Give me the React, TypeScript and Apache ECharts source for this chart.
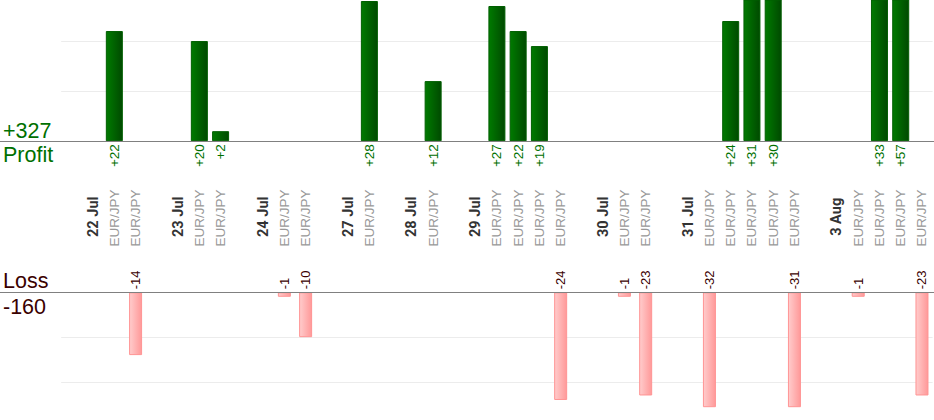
import React, { useEffect, useRef } from "react";
import * as echarts from "echarts";

const PAIR = "EUR/JPY";

const categories: string[] = [
  "", "22 Jul", PAIR, PAIR,
  "", "23 Jul", PAIR, PAIR,
  "", "24 Jul", PAIR, PAIR,
  "", "27 Jul", PAIR,
  "", "28 Jul", PAIR,
  "", "29 Jul", PAIR, PAIR, PAIR, PAIR,
  "", "30 Jul", PAIR, PAIR,
  "", "31 Jul", PAIR, PAIR, PAIR, PAIR, PAIR,
  "", "3 Aug", PAIR, PAIR, PAIR, PAIR,
];

const profit: (number | null)[] = [
  null, null, 22, null,
  null, null, 20, 2,
  null, null, null, null,
  null, null, 28,
  null, null, 12,
  null, null, 27, 22, 19, null,
  null, null, null, null,
  null, null, null, 24, 31, 30, null,
  null, null, null, 33, 57, null,
];

const loss: (number | null)[] = [
  null, null, null, -14,
  null, null, null, null,
  null, null, -1, -10,
  null, null, null,
  null, null, null,
  null, null, null, null, null, -24,
  null, null, -1, -23,
  null, null, -32, null, null, null, -31,
  null, null, -1, null, null, -23,
];

const profitAxisMax = 28.2;
const lossAxisMax = 25.5;
const axisInterval = 10;

const FONT = "'Liberation Sans', Arial, Helvetica, sans-serif";
const BOLD_FONT = "Roboto, 'Noto Sans', sans-serif";
const GREEN = "#007000";
const DARK_RED = "#3a0000";

export default function App() {
  const ref = useRef<HTMLDivElement>(null);

  useEffect(() => {
    document.body.style.margin = "0";
    if (!ref.current) return;
    const chart = echarts.init(ref.current, undefined, { renderer: "svg" });

    const totalProfit = profit.reduce((s: number, v) => s + (v ?? 0), 0);
    const totalLoss = loss.reduce((s: number, v) => s + (v ?? 0), 0);

    const gridLeft = 61.2;
    const gridWidth = 871.4;

    const labelAxis = (isPair: boolean) => ({
      type: "category",
      gridIndex: 0,
      position: "bottom",
      data: categories,
      boundaryGap: true,
      axisLine: { show: false },
      axisTick: { show: false },
      splitLine: { show: false },
      axisLabel: {
        interval: 0,
        rotate: 90,
        align: "center",
        verticalAlign: "middle",
        margin: isPair ? 76.8 : 75.6,
        fontFamily: isPair ? FONT : BOLD_FONT,
        fontSize: isPair ? 13.5 : 14.5,
        fontWeight: isPair ? "normal" : "bold",
        color: isPair ? "#999999" : "#333333",
        formatter: (v: string) => ((v === PAIR) === isPair ? v : ""),
      },
    });

    const option: any = {
      animation: false,
      textStyle: { fontFamily: FONT },
      grid: [
        { left: gridLeft, width: gridWidth, top: 0, height: 141.2, containLabel: false, outerBoundsMode: "none" },
        { left: gridLeft, width: gridWidth, top: 292.3, height: 114.4, containLabel: false, outerBoundsMode: "none" },
      ],
      xAxis: [
        labelAxis(true),
        {
          type: "category",
          gridIndex: 1,
          data: categories,
          boundaryGap: true,
          axisLine: { show: false },
          axisTick: { show: false },
          axisLabel: { show: false },
          splitLine: { show: false },
        },
        labelAxis(false),
      ],
      yAxis: [
        {
          type: "value",
          gridIndex: 0,
          min: 0,
          max: profitAxisMax,
          interval: axisInterval,
          axisLabel: { show: false },
          axisLine: { show: false },
          axisTick: { show: false },
          splitLine: { show: true, showMinLine: false, showMaxLine: false, lineStyle: { color: "#ececec", width: 1 } },
        },
        {
          type: "value",
          gridIndex: 1,
          min: 0,
          max: lossAxisMax,
          interval: axisInterval,
          inverse: true,
          axisLabel: { show: false },
          axisLine: { show: false },
          axisTick: { show: false },
          splitLine: { show: true, showMinLine: false, showMaxLine: false, lineStyle: { color: "#ececec", width: 1 } },
        },
      ],
      series: [
        {
          type: "bar",
          name: "Profit",
          xAxisIndex: 0,
          yAxisIndex: 0,
          data: profit,
          barWidth: 17,
          clip: true,
          itemStyle: {
            color: new echarts.graphic.LinearGradient(0, 0, 1, 0, [
              { offset: 0, color: "#007a00" },
              { offset: 1, color: "#004a00" },
            ]),
            borderColor: "#005e00",
            borderWidth: 1,
          },
          label: {
            show: true,
            position: "bottom",
            distance: 3,
            rotate: 90,
            align: "right",
            verticalAlign: "middle",
            color: GREEN,
            fontSize: 13.5,
            fontFamily: FONT,
            formatter: (p: any) => "+" + p.value,
          },
        },
        {
          type: "bar",
          name: "Loss",
          xAxisIndex: 1,
          yAxisIndex: 1,
          data: loss.map((v) => (v == null ? null : -v)),
          barWidth: 13,
          clip: true,
          itemStyle: {
            color: new echarts.graphic.LinearGradient(0, 0, 1, 0, [
              { offset: 0, color: "#ffcccc" },
              { offset: 1, color: "#ff9999" },
            ]),
            borderColor: "#ff9494",
            borderWidth: 1,
          },
          label: {
            show: true,
            position: "top",
            distance: 3,
            rotate: 90,
            align: "left",
            verticalAlign: "middle",
            color: DARK_RED,
            fontSize: 13,
            fontFamily: FONT,
            formatter: (p: any) => "-" + p.value,
          },
        },
      ],
      graphic: [
        {
          type: "line",
          z: 10,
          shape: { x1: 0, y1: 141.5, x2: 934, y2: 141.5 },
          style: { stroke: "#808080", lineWidth: 1 },
        },
        {
          type: "line",
          z: 10,
          shape: { x1: 0, y1: 292.5, x2: 934, y2: 292.5 },
          style: { stroke: "#808080", lineWidth: 1 },
        },
        {
          type: "text",
          x: 3,
          y: 130.5,
          style: { text: "+" + totalProfit, fill: GREEN, fontSize: 21.5, fontFamily: FONT, verticalAlign: "middle", align: "left" },
        },
        {
          type: "text",
          x: 3,
          y: 155,
          style: { text: "Profit", fill: GREEN, fontSize: 21.5, fontFamily: FONT, verticalAlign: "middle", align: "left" },
        },
        {
          type: "text",
          x: 3,
          y: 280.5,
          style: { text: "Loss", fill: DARK_RED, fontSize: 21.5, fontFamily: FONT, verticalAlign: "middle", align: "left" },
        },
        {
          type: "text",
          x: 3,
          y: 306.5,
          style: { text: String(totalLoss), fill: DARK_RED, fontSize: 21.5, fontFamily: FONT, verticalAlign: "middle", align: "left" },
        },
      ],
    };

    chart.setOption(option);
    return () => chart.dispose();
  }, []);

  return (
    <div
      ref={ref}
      style={{ position: "absolute", left: 0, top: 0, width: 934, height: 420, background: "#ffffff" }}
    />
  );
}
